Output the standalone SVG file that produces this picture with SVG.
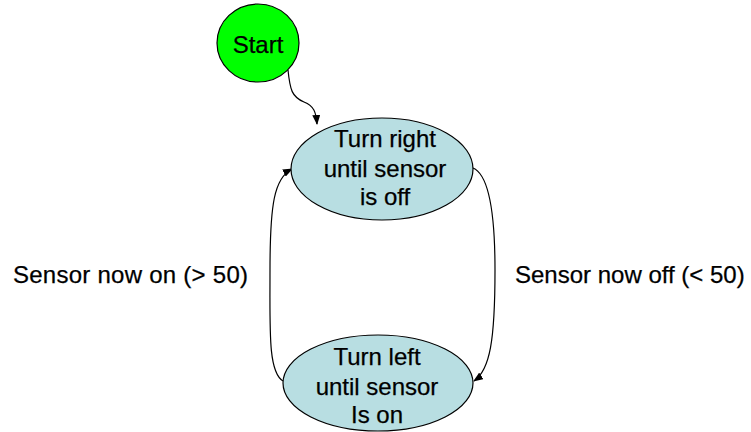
<svg xmlns="http://www.w3.org/2000/svg" width="751" height="432" viewBox="0 0 751 432">
<defs>
<marker id="arr" markerWidth="10" markerHeight="8" refX="9" refY="4" orient="auto" markerUnits="userSpaceOnUse">
<path d="M0,0 L10,4 L0,8 z" fill="#000"/>
</marker>
<style>
text{font-family:"Liberation Sans",Arial,sans-serif;font-size:24px;fill:#000;text-anchor:middle;stroke:#000;stroke-width:0.25}
.lbl{text-anchor:start}
.edge{fill:none;stroke:#000;stroke-width:1.2;marker-end:url(#arr)}
.state{fill:#B8DEE2;stroke:#000;stroke-width:1.2}
</style>
</defs>
<rect width="751" height="432" fill="#fff"/>
<g id="connectors">
<path class="edge" d="M288,70 C290,90 292,97 304,102 C314,106 316,112 317,124"/>
<path class="edge" d="M283,381 C268,372 270,330 270,270 C270,205 274,178 292,169"/>
<path class="edge" d="M473,168 C490,175 495,220 495,270 C495,340 490,370 474,381"/>
</g>
<g id="start">
<ellipse cx="258" cy="43" rx="41" ry="39" fill="#00FF00" stroke="#000" stroke-width="1.2"/>
<text x="258" y="53">Start</text>
</g>
<g id="turn-right">
<ellipse class="state" cx="382" cy="169" rx="91" ry="51"/>
<text x="385" y="147">Turn right</text>
<text x="385" y="177">until sensor</text>
<text x="385" y="205">is off</text>
</g>
<g id="turn-left">
<ellipse class="state" cx="378" cy="383" rx="95" ry="48"/>
<text x="377" y="365">Turn left</text>
<text x="377" y="395">until sensor</text>
<text x="377" y="423">Is on</text>
</g>
<g id="labels">
<text class="lbl" x="13" y="283" textLength="235">Sensor now on (&gt; 50)</text>
<text class="lbl" x="515" y="283">Sensor now off (&lt; 50)</text>
</g>
</svg>
